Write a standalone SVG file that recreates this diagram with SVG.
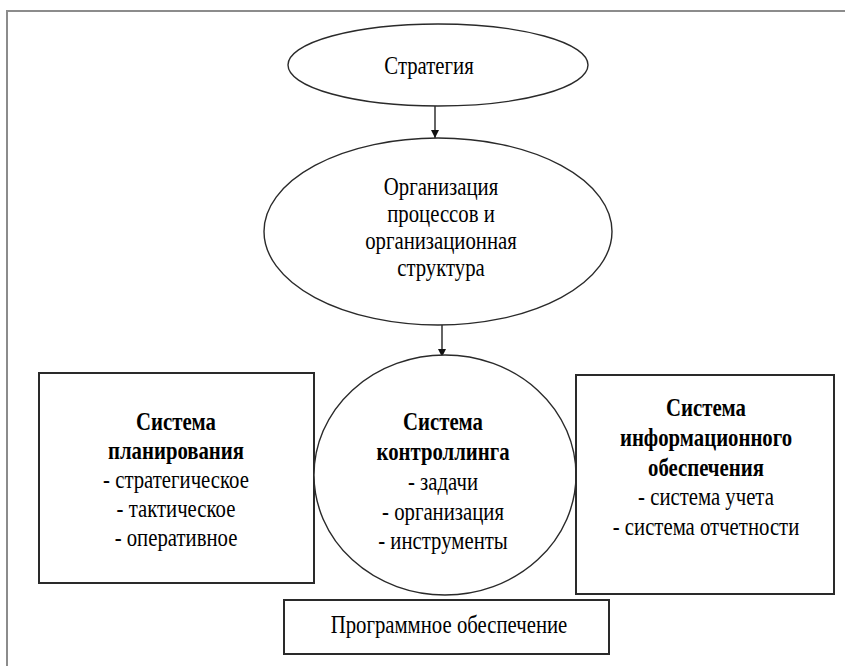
<svg xmlns="http://www.w3.org/2000/svg" width="845" height="666" viewBox="0 0 845 666">
<defs>
<style>
.shape{fill:#fff;stroke:#2a2a2a;stroke-width:1.4}
.box{fill:#fff;stroke:#2a2a2a;stroke-width:2}
.conn{stroke:#111;stroke-width:1.3;fill:none}
text{font-family:"Liberation Serif","Times New Roman",serif;font-size:25px;fill:#000;text-anchor:middle}
.b{font-weight:bold}
</style>
<marker id="arr" viewBox="0 0 10 10" refX="10" refY="5" markerWidth="8" markerHeight="10" markerUnits="userSpaceOnUse" orient="auto">
<path d="M0,0 L10,5 L0,10 z" fill="#111"/>
</marker>
</defs>
<rect width="845" height="666" fill="#fff"/>
<path d="M7,666 V11 H845" fill="none" stroke="#8c8c8c" stroke-width="2"/>

<g id="connectors">
<line class="conn" x1="435" y1="106" x2="435" y2="138" marker-end="url(#arr)"/>
<line class="conn" x1="442" y1="325" x2="442" y2="357" marker-end="url(#arr)"/>
</g>

<g id="strategy">
<ellipse class="shape" cx="438" cy="65" rx="150" ry="41"/>
<text transform="translate(429,74) scale(0.83,1)">Стратегия</text>
</g>

<g id="organization">
<ellipse class="shape" cx="438" cy="231.5" rx="174" ry="93.5"/>
<text transform="translate(441,195) scale(0.83,1)">Организация</text>
<text transform="translate(441,222) scale(0.83,1)">процессов и</text>
<text transform="translate(441,249) scale(0.83,1)">организационная</text>
<text transform="translate(441,276) scale(0.83,1)">структура</text>
</g>

<g id="planning">
<rect class="box" x="39" y="373" width="275" height="210"/>
<text class="b" transform="translate(176,430) scale(0.83,1)">Система</text>
<text class="b" transform="translate(176,459) scale(0.83,1)">планирования</text>
<text transform="translate(176,488) scale(0.83,1)">- стратегическое</text>
<text transform="translate(176,517) scale(0.83,1)">- тактическое</text>
<text transform="translate(176,546) scale(0.83,1)">- оперативное</text>
</g>

<g id="controlling">
<ellipse class="shape" cx="445" cy="475" rx="131" ry="120"/>
<text class="b" transform="translate(443,430) scale(0.83,1)">Система</text>
<text class="b" transform="translate(443,460) scale(0.83,1)">контроллинга</text>
<text transform="translate(443,490) scale(0.83,1)">- задачи</text>
<text transform="translate(443,520) scale(0.83,1)">- организация</text>
<text transform="translate(443,549) scale(0.83,1)">- инструменты</text>
</g>

<g id="information">
<rect class="box" x="576" y="375" width="258" height="219"/>
<text class="b" transform="translate(706,416) scale(0.83,1)">Система</text>
<text class="b" transform="translate(706,446) scale(0.83,1)">информационного</text>
<text class="b" transform="translate(706,476) scale(0.83,1)">обеспечения</text>
<text transform="translate(706,505) scale(0.83,1)">- система учета</text>
<text transform="translate(706,535) scale(0.83,1)">- система отчетности</text>
</g>

<g id="software">
<rect class="box" x="284" y="600" width="325" height="54"/>
<text transform="translate(449,633) scale(0.83,1)">Программное обеспечение</text>
</g>
</svg>
